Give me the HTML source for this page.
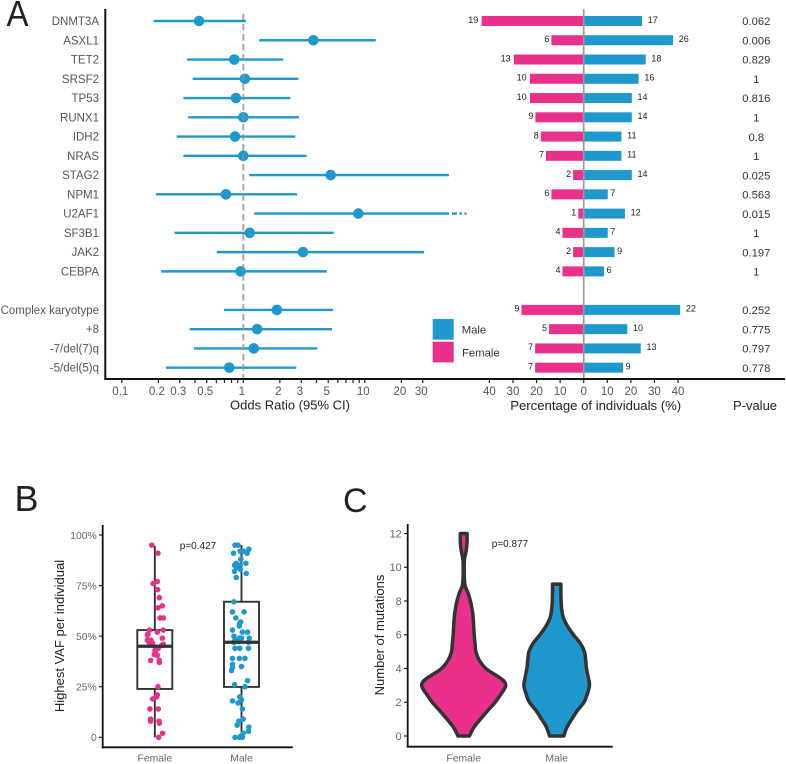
<!DOCTYPE html>
<html lang="en">
<head>
<meta charset="utf-8">
<title>Sex differences in mutations</title>
<style>
html,body{margin:0;padding:0;background:#fff;}
svg{display:block;font-family:"Liberation Sans",Arial,sans-serif;}
</style>
</head>
<body>
<svg id="fig" width="786" height="764" viewBox="0 0 786 764" xmlns="http://www.w3.org/2000/svg">
  <text x="6.5" y="26" font-size="36" fill="#222" textLength="22" lengthAdjust="spacingAndGlyphs">A</text>
  <text x="14.5" y="511" font-size="36" fill="#222">B</text>
  <text x="343" y="512" font-size="34" fill="#222">C</text>

  <g id="forest"></g>
  <g id="bars"></g>
  <g id="pvals"></g>

  <line x1="105.3" y1="9" x2="105.3" y2="380" stroke="#111" stroke-width="2"/>
  <line x1="104.3" y1="379" x2="785" y2="379" stroke="#111" stroke-width="2"/>
  <text x="290" y="409.5" font-size="13" text-anchor="middle" fill="#222">Odds Ratio (95% CI)</text>
  <text x="595.7" y="410" font-size="13.15" text-anchor="middle" fill="#222">Percentage of individuals (%)</text>
  <text x="755" y="410" font-size="13" text-anchor="middle" fill="#222">P-value</text>

  <rect x="432.7" y="319" width="21" height="20.7" fill="#1e98cd"/>
  <rect x="432.7" y="341.7" width="21" height="20.7" fill="#e9318c"/>
  <text x="461.7" y="333.5" font-size="11.3" fill="#333">Male</text>
  <text x="462" y="356.5" font-size="11.3" fill="#333">Female</text>

  <g id="boxplot"></g>
  <line x1="102.7" y1="525" x2="102.7" y2="748.2" stroke="#111" stroke-width="1.8"/>
  <line x1="101.8" y1="747.3" x2="292.7" y2="747.3" stroke="#111" stroke-width="1.8"/>
  <text transform="translate(64,636) rotate(-90)" font-size="13" text-anchor="middle" fill="#222">Highest VAF per individual</text>
  <text x="198" y="549" font-size="10" text-anchor="middle" fill="#222">p=0.427</text>

  <g id="violin"></g>
  <line x1="407.7" y1="524" x2="407.7" y2="747.6" stroke="#111" stroke-width="1.8"/>
  <line x1="406.8" y1="746.7" x2="612.7" y2="746.7" stroke="#111" stroke-width="1.8"/>
  <text transform="translate(384,635) rotate(-90)" font-size="13" text-anchor="middle" fill="#222">Number of mutations</text>
  <text x="510" y="547" font-size="10" text-anchor="middle" fill="#222">p=0.877</text>
</svg>

<script>
// ---------- Panel A data ----------
var rowLabels = ["DNMT3A","ASXL1","TET2","SRSF2","TP53","RUNX1","IDH2","NRAS","STAG2","NPM1","U2AF1","SF3B1","JAK2","CEBPA","","Complex karyotype","+8","-7/del(7)q","-5/del(5)q"];
var orLow  = [0.182,1.35,0.344,0.383,0.321,0.352,0.283,0.321,1.12,0.191,1.23,0.272,0.604,0.211,null,0.693,0.362,0.393,0.231];
var orEst  = [0.432,3.77,0.843,1.03,0.87,1.0,0.855,1.0,5.24,0.72,8.85,1.13,3.1,0.95,null,1.89,1.30,1.22,0.767];
var orHigh = [1.05,12.3,2.13,2.84,2.44,2.87,2.68,3.32,49.3,2.77,69,5.55,30.7,4.86,null,5.47,5.37,4.06,2.73];
var orAxisCap = 49.3;
var orMinorTicks = [0.1,0.2,0.3,0.4,0.5,0.6,0.7,0.8,0.9,1,2,3,4,5,6,7,8,9,10,20,30];
var orTickLabels = [0.1,0.2,0.3,0.5,1,2,3,5,10,20,30];
var femalePct = [43.3,13.7,29.6,22.8,22.8,20.5,18.2,16,4.5,13.7,2.3,9,4.5,9,null,26.4,14.7,20.6,20.6];
var malePct   = [24.75,37.9,26.3,23.3,20.4,20.4,16,16,20.4,10.2,17.5,10.2,13.1,8.6,null,40.9,18.5,24.2,16.7];
var femaleCounts = [19,6,13,10,10,9,8,7,2,6,1,4,2,4,null,9,5,7,7];
var maleCounts   = [17,26,18,16,14,14,11,11,14,7,12,7,9,6,null,22,10,13,9];
var pctTicks = [-40,-30,-20,-10,0,10,20,30,40];
var pValues = ["0.062","0.006","0.829","1","0.816","1","0.8","1","0.025","0.563","0.015","1","0.197","1","","0.252","0.775","0.797","0.778"];

// ---------- Panel B data ----------
var vafTicks = [0,25,50,75,100];
var vafTickLabels = ["0","25%","50%","75%","100%"];
var groupLabels = ["Female","Male"];
var boxLow = [0,0];
var boxQ1 = [23.9,24.9];
var boxMedian = [45,47];
var boxQ3 = [53,67];
var boxHigh = [94.7,95];
var femaleVaf = [95,91,76,77,73,69,65,64,59,59,53,53,52,51,50.5,49,48,48,47,46.5,46,45.5,45.5,44,43,44,41.5,40.5,41,38,38,37,25,21,20,19,14,14,9,8,8,7,2,0];
var femaleGroupX = [0.965,1.037,0.98,1.029,1.033,1.052,1.087,1.037,1.06,1.098,0.94,1.098,1.029,0.921,0.915,1.087,0.915,0.954,0.935,0.973,1.098,1.079,0.977,1.02,1.002,1.04,1.01,1.029,0.994,1.052,0.952,1.052,1.037,1.029,1.021,0.975,0.944,1.04,0.952,0.952,1.048,1.052,1.09,1.044];
var maleVaf = [95,95,93,92,92,91,91,88,86,86,85,85,84,83,82,81,79,67,62,62,59,57,56,55,53,52,52,50,49,49,49,48,47,47,44,44,44,39,39,39,36,35,34.5,33,28,26,25,20,18.5,18,17,14,9,8,6,5,3,2,0.5,0,0,0];
var maleGroupX = [1.925,1.96,2.085,1.985,2.025,2.065,1.908,1.992,2.05,1.94,1.92,1.985,1.94,1.988,1.92,2.055,1.94,1.912,1.896,2.03,1.935,1.99,1.975,1.975,1.896,2.01,2.07,1.912,1.975,2.09,2.0,1.925,1.912,2.08,1.925,1.98,2.08,1.896,1.975,2.04,1.896,2.0,1.896,1.885,2.07,1.92,2.04,1.98,2.0,1.896,1.96,2.01,2.02,1.97,1.95,2.085,2.08,2.02,1.99,1.925,1.975,2.01];

// ---------- Panel C data ----------
var mutTicks = [0,2,4,6,8,10,12];
var femaleLevels = [0,0.5,1,1.5,2,2.5,2.75,3,3.25,3.5,4,4.5,5,5.5,6,7,7.5,8,8.5,9,10,10.5,11,11.5,12];
var femaleDensity = [0.135,0.24,0.4,0.57,0.75,0.89,0.96,1,0.96,0.83,0.53,0.37,0.29,0.27,0.25,0.226,0.2,0.16,0.1,0.025,0.012,0.02,0.06,0.08,0.08];
var maleLevels = [0,0.5,1,1.5,2,2.5,3,3.5,4,4.5,5,5.5,6,6.5,7,7.5,8,8.5,9];
var maleDensity = [0.17,0.24,0.36,0.49,0.65,0.73,0.78,0.75,0.71,0.69,0.66,0.56,0.4,0.26,0.16,0.12,0.105,0.1,0.1];

// ---------- Helpers ----------
var NS = "http://www.w3.org/2000/svg";
var BLUE = "#1e98cd", PINK = "#e9318c", DARK = "#333";
function mk(tag, parent, attrs, text) {
  var el = document.createElementNS(NS, tag);
  for (var k in attrs) el.setAttribute(k, attrs[k]);
  if (text !== undefined) el.textContent = text;
  parent.appendChild(el);
  return el;
}
function orX(v) { return 243.3 + 121.5 * Math.log10(v); }
function rowY(i) { return 21 + 19.26 * i; }
function pctX(v) { return 583.7 + 2.358 * v; }
function vafY(v) { return 737.3 - 2.023 * v; }
function groupXB(g) { return 154.8 + 86.7 * (g - 1); }
function mutY(v) { return 736 - 16.87 * v; }
function violinPath(cx, levels, dens, scale) {
  var pts = [], i;
  for (i = 0; i < levels.length; i++) pts.push([cx + dens[i] * scale, mutY(levels[i])]);
  for (i = levels.length - 1; i >= 0; i--) pts.push([cx - dens[i] * scale, mutY(levels[i])]);
  var n = levels.length, d = "M" + pts[0][0].toFixed(2) + " " + pts[0][1].toFixed(2);
  function seg(a, b, c, e) {
    var c1x = b[0] + (c[0] - a[0]) / 6, c1y = b[1] + (c[1] - a[1]) / 6;
    var c2x = c[0] - (e[0] - b[0]) / 6, c2y = c[1] - (e[1] - b[1]) / 6;
    return "C" + c1x.toFixed(2) + " " + c1y.toFixed(2) + " " + c2x.toFixed(2) + " " + c2y.toFixed(2) + " " + c[0].toFixed(2) + " " + c[1].toFixed(2);
  }
  for (i = 0; i < n - 1; i++) d += seg(pts[Math.max(i - 1, 0)], pts[i], pts[i + 1], pts[Math.min(i + 2, n - 1)]);
  d += "L" + pts[n][0].toFixed(2) + " " + pts[n][1].toFixed(2);
  for (i = n; i < 2 * n - 1; i++) d += seg(pts[Math.max(i - 1, n)], pts[i], pts[i + 1], pts[Math.min(i + 2, 2 * n - 1)]);
  return d + "Z";
}

// ---------- Forest plot ----------
var forest = document.getElementById("forest");
rowLabels.forEach(function (label, i) {
  if (!label) return;
  var y = rowY(i);
  var lab = mk("text", forest, {x: 99, y: y + 4, "font-size": 11.5, "text-anchor": "end", fill: "#555"}, label);
  
  
  var solidEnd = Math.min(orHigh[i], orAxisCap);
  var ci = mk("line", forest, {x1: orX(orLow[i]), x2: orX(solidEnd), y1: y, y2: y, stroke: BLUE, "stroke-width": 2.4});
  
  
  if (orHigh[i] > orAxisCap) {
    var ext = mk("line", forest, {x1: orX(orAxisCap) + 3, x2: orX(orHigh[i]), y1: y, y2: y, stroke: BLUE, "stroke-width": 2.4, "stroke-dasharray": "5 2.5 2.5 2.5 2 2"});
    
    
  }
  var pt = mk("circle", forest, {cx: orX(orEst[i]), cy: y, r: 5.3, fill: BLUE});
  
  
});
var refLine = mk("line", forest, {x1: orX(1), x2: orX(1), y1: 14, y2: 379, stroke: "#8f8f8f", "stroke-width": 2, "stroke-dasharray": "6.5 3.5", opacity: 0.75});


orMinorTicks.forEach(function (v) {
  var t = mk("line", forest, {x1: orX(v), x2: orX(v), y1: 379, y2: 383, stroke: "#222", "stroke-width": 1.2});
  
  
});
orTickLabels.forEach(function (v) {
  var t = mk("text", forest, {x: orX(v) - 1.5, y: 395, "font-size": 11.5, "text-anchor": "middle", fill: "#555"}, String(v));
  
  
});

// ---------- Bars ----------
var bars = document.getElementById("bars");
rowLabels.forEach(function (label, i) {
  if (!label) return;
  var y = rowY(i);
  var fx = pctX(-femalePct[i]), mx = pctX(malePct[i]), zero = pctX(0);
  var fb = mk("rect", bars, {x: fx, y: y - 5, width: zero - fx, height: 10, fill: PINK});
  
  
  var mb = mk("rect", bars, {x: zero, y: y - 5, width: mx - zero, height: 10, fill: BLUE});
  
  
  var fs = String(femaleCounts[i]), ms = String(maleCounts[i]);
  var fl = mk("text", bars, {x: fx - (fs.length > 1 ? 3.3 : 2), y: y + 1.8, "font-size": 9, "text-anchor": "end", fill: "#222"}, fs);
  
  
  var ml = mk("text", bars, {x: mx + (ms.length > 1 ? 5.7 : 2.5), y: y + 1.8, "font-size": 9, fill: "#222"}, ms);
  
  
});
var zeroLine = mk("line", bars, {x1: pctX(0), x2: pctX(0), y1: 9, y2: 379, stroke: "#999", "stroke-width": 1.7});


pctTicks.forEach(function (v) {
  var t = mk("line", bars, {x1: pctX(v), x2: pctX(v), y1: 379, y2: 383, stroke: "#222", "stroke-width": 1.2});
  
  
  var l = mk("text", bars, {x: pctX(v), y: 395, "font-size": 11.5, "text-anchor": "middle", fill: "#555"}, String(Math.abs(v)));
  
  
});

// ---------- P values ----------
var pvals = document.getElementById("pvals");
pValues.forEach(function (p, i) {
  if (!p) return;
  var t = mk("text", pvals, {x: 756.3, y: rowY(i) + 4.2, "font-size": 11.2, "text-anchor": "middle", fill: "#333"}, p);
  
  
});

// ---------- Box plot ----------
var box = document.getElementById("boxplot");
vafTicks.forEach(function (v, i) {
  var t = mk("line", box, {x1: 99, x2: 102.7, y1: vafY(v), y2: vafY(v), stroke: "#222", "stroke-width": 1.2});
  
  
  var l = mk("text", box, {x: 96.8, y: vafY(v) + 3.8, "font-size": 10.4, "text-anchor": "end", fill: "#666"}, vafTickLabels[i]);
  
  
});
groupLabels.forEach(function (g, i) {
  var cx = groupXB(i + 1);
  var wh = mk("line", box, {x1: cx, x2: cx, y1: vafY(boxLow[i]), y2: vafY(boxHigh[i]), stroke: DARK, "stroke-width": 1.9});
  
  
  var r = mk("rect", box, {x: cx - 17.5, y: vafY(boxQ3[i]), width: 35, height: vafY(boxQ1[i]) - vafY(boxQ3[i]), fill: "#fff", stroke: DARK, "stroke-width": 1.9});
  
  
  var l = mk("text", box, {x: cx, y: 761.5, "font-size": 10.4, "text-anchor": "middle", fill: "#666"}, g);
  
  
});
femaleVaf.forEach(function (v, i) {
  var c = mk("circle", box, {cx: groupXB(femaleGroupX[i]), cy: vafY(v), r: 2.8, fill: PINK});
  
  
});
maleVaf.forEach(function (v, i) {
  var c = mk("circle", box, {cx: groupXB(maleGroupX[i]), cy: vafY(v), r: 2.8, fill: BLUE});
  
  
});
groupLabels.forEach(function (g, i) {
  var cx = groupXB(i + 1);
  var m = mk("line", box, {x1: cx - 17.5, x2: cx + 17.5, y1: vafY(boxMedian[i]), y2: vafY(boxMedian[i]), stroke: DARK, "stroke-width": 3.2});
  
  
});

// ---------- Violin ----------
var vio = document.getElementById("violin");
mutTicks.forEach(function (v) {
  var t = mk("line", vio, {x1: 404, x2: 407.7, y1: mutY(v), y2: mutY(v), stroke: "#222", "stroke-width": 1.2});
  
  
  var l = mk("text", vio, {x: 401.7, y: mutY(v) + 3.8, "font-size": 10.8, "text-anchor": "end", fill: "#666"}, String(v));
  
  
});
var vf = mk("path", vio, {d: violinPath(463.7, femaleLevels, femaleDensity, 42), fill: PINK, stroke: DARK, "stroke-width": 3.5, "stroke-linejoin": "round"});


var vm = mk("path", vio, {d: violinPath(556.7, maleLevels, maleDensity, 42), fill: BLUE, stroke: DARK, "stroke-width": 3.5, "stroke-linejoin": "round"});


[463.7, 556.7].forEach(function (cx, i) {
  var l = mk("text", vio, {x: cx, y: 761.5, "font-size": 10.4, "text-anchor": "middle", fill: "#666"}, groupLabels[i]);
  
  
});
</script>
</body>
</html>
